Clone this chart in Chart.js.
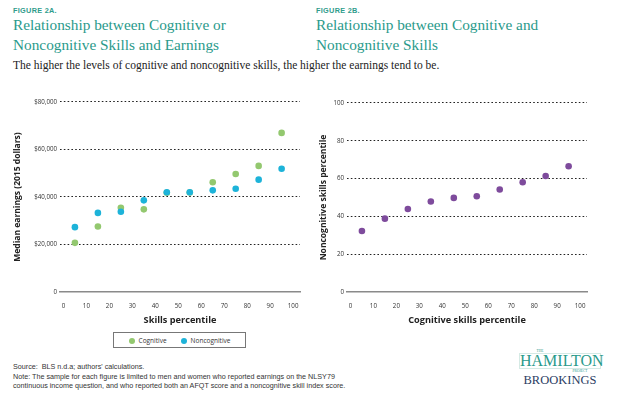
<!DOCTYPE html>
<html>
<head>
<meta charset="utf-8">
<script src="https://cdn.jsdelivr.net/npm/chart.js@4.4.1/dist/chart.umd.min.js"></script>
<style>
  body{ margin:0; width:621px; height:398px; background:#fff; position:relative; overflow:hidden; font-family:"Liberation Sans", Arial, sans-serif; }
  .abs{ position:absolute; white-space:nowrap; }
  .fig{ font-size:7.3px; font-weight:bold; color:#2f9c8c; letter-spacing:0.3px; }
  .ttl{ font-family:"Liberation Serif", serif; font-size:15.3px; color:#2a9a8b; line-height:19.5px; }
  .sub{ font-family:"Liberation Serif", serif; font-size:11.5px; color:#222; }
  .note{ font-size:7.2px; color:#333; line-height:9.6px; }
  #legend{ position:absolute; left:113px; top:332px; width:133px; height:16px; border:1px solid #777; box-sizing:border-box;
           display:flex; align-items:center; justify-content:center; gap:14px; font-family:"Open Sans", sans-serif; font-size:6.5px; color:#333; }
  #legend span.dot{ display:inline-block; width:6px; height:6px; border-radius:50%; margin-right:4px; vertical-align:-1px; }
  canvas{ position:absolute; }
</style>
</head>
<body>
<div class="abs fig" style="left:13px; top:6px;">FIGURE 2A.</div>
<div class="abs ttl" style="left:13px; top:15px;">Relationship between Cognitive or<br>Noncognitive Skills and Earnings</div>
<div class="abs fig" style="left:316px; top:6px;">FIGURE 2B.</div>
<div class="abs ttl" style="left:316px; top:15px;">Relationship between Cognitive and<br>Noncognitive Skills</div>
<div class="abs sub" style="left:13px; top:59px;">The higher the levels of cognitive and noncognitive skills, the higher the earnings tend to be.</div>

<canvas id="left" width="310" height="235" style="left:0; top:95px;"></canvas>
<canvas id="right" width="310" height="235" style="left:300px; top:95px;"></canvas>

<div id="legend"></div>

<div class="abs note" style="left:13px; top:362px;">Source:&nbsp; BLS n.d.a; authors' calculations.<br>Note: The sample for each figure is limited to men and women who reported earnings on the NLSY79<br>continuous income question, and who reported both an AFQT score and a noncognitive skill index score.</div>

<div class="abs" style="left:519px; top:349px; width:82px; text-align:center; font-family:'Liberation Serif', serif;">
  <div style="font-size:3.5px; color:#2a9a8b; line-height:4px; margin-left:-40px;">THE</div>
  <div style="font-size:16px; color:#2a9a8b; line-height:14px; border:1px solid #d5eae5;">HAMILTON</div>
  <div style="font-size:3.5px; color:#2a9a8b; line-height:5px; margin-left:40px;">PROJECT</div>
  <div style="font-size:12.5px; color:#2b3d63; line-height:13px;">BROOKINGS</div>
</div>

<script>
const percentiles = [5, 15, 25, 35, 45, 55, 65, 75, 85, 95];
const cognitiveEarnings = [20700, 27600, 35500, 34800, 41800, 41900, 46200, 49700, 53100, 67000];
const noncognitiveEarnings = [27300, 33300, 33800, 38600, 42000, 42000, 42800, 43500, 47300, 51900];
const noncogByCogPercentile = [32.3, 38.8, 43.9, 47.9, 49.8, 50.7, 54.2, 58.1, 61.4, 66.5];

const xTicks = [0, 10, 20, 30, 40, 50, 60, 70, 80, 90, 100];
const earningsTicks = [0, 20000, 40000, 60000, 80000];
const skillTicks = [0, 20, 40, 60, 80, 100];

const seriesNames = ["Cognitive", "Noncognitive"];
const seriesColors = ["#93c86f", "#1db3d9"];
const purple = "#7e4b9c";

const pts = (xs, ys) => xs.map((x, i) => ({ x: x, y: ys[i] }));
const fmtMoney = v => v === 0 ? "0" : "$" + v.toLocaleString("en-US");

const tickFont = { family: "Open Sans", size: 6.2 };
const yTitleFont = { family: "Open Sans", size: 8.5, weight: "bold" };
const xTitleFont = { family: "Open Sans", size: 9.2, weight: "bold" };

function axes(yTicks, yMax, yFmt, xTitle, yTitle, yWidth, yTitlePad){
  return {
    x: {
      type: "linear", min: -1.5, max: 103,
      afterBuildTicks: s => { s.ticks = xTicks.map(v => ({ value: v })); },
      afterFit: s => { s.height = 38; },
      grid: { display: false },
      border: { display: true, color: "#8a8a8a", width: 1.5 },
      ticks: { font: tickFont, color: "#333", padding: 3, maxRotation: 0 },
      title: { display: true, text: xTitle, font: xTitleFont, color: "#222", padding: { top: 0, bottom: 4 } }
    },
    y: {
      type: "linear", min: 0, max: yMax,
      afterBuildTicks: s => { s.ticks = yTicks.map(v => ({ value: v })); },
      afterFit: s => { s.width = yWidth; },
      grid: {
        color: c => c.tick && c.tick.value === 0 ? "rgba(0,0,0,0)" : "#222",
        lineWidth: 1.1, drawTicks: false
      },
      border: { display: false, dash: [1.6, 2.2] },
      ticks: { font: tickFont, color: "#333", padding: 3, callback: yFmt },
      title: { display: true, text: yTitle, font: yTitleFont, color: "#222", padding: { top: yTitlePad, bottom: 0 } }
    }
  };
}

function makeOpts(scales, pad){
  return {
    responsive: false, animation: false,
    layout: { padding: pad },
    plugins: { legend: { display: false }, tooltip: { enabled: false } },
    scales: scales
  };
}

new Chart(document.getElementById("left"), {
  type: "scatter",
  data: {
    datasets: [
      { label: seriesNames[0], data: pts(percentiles, cognitiveEarnings), backgroundColor: seriesColors[0], borderWidth: 0, pointRadius: 3.3, order: 2 },
      { label: seriesNames[1], data: pts(percentiles, noncognitiveEarnings), backgroundColor: seriesColors[1], borderWidth: 0, pointRadius: 3.3, order: 1 }
    ]
  },
  options: makeOpts(
    axes(earningsTicks, 80000, fmtMoney, "Skills percentile", "Median earnings (2015 dollars)", 60, 12),
    { top: 7, right: 10, left: 0, bottom: 0 })
});

new Chart(document.getElementById("right"), {
  type: "scatter",
  data: {
    datasets: [
      { label: "Cognitive vs. noncognitive", data: pts(percentiles, noncogByCogPercentile), backgroundColor: purple, borderWidth: 0, pointRadius: 3.3 }
    ]
  },
  options: makeOpts(
    axes(skillTicks, 100, v => String(v), "Cognitive skills percentile", "Noncognitive skills percentile", 47, 18),
    { top: 8, right: 23, left: 0, bottom: 0 })
});

// legend under panel A
const lg = document.getElementById("legend");
seriesNames.forEach((n, i) => {
  const it = document.createElement("div");
  it.innerHTML = `<span class="dot" style="background:${seriesColors[i]}"></span>${n}`;
  lg.appendChild(it);
});
</script>
</body>
</html>
